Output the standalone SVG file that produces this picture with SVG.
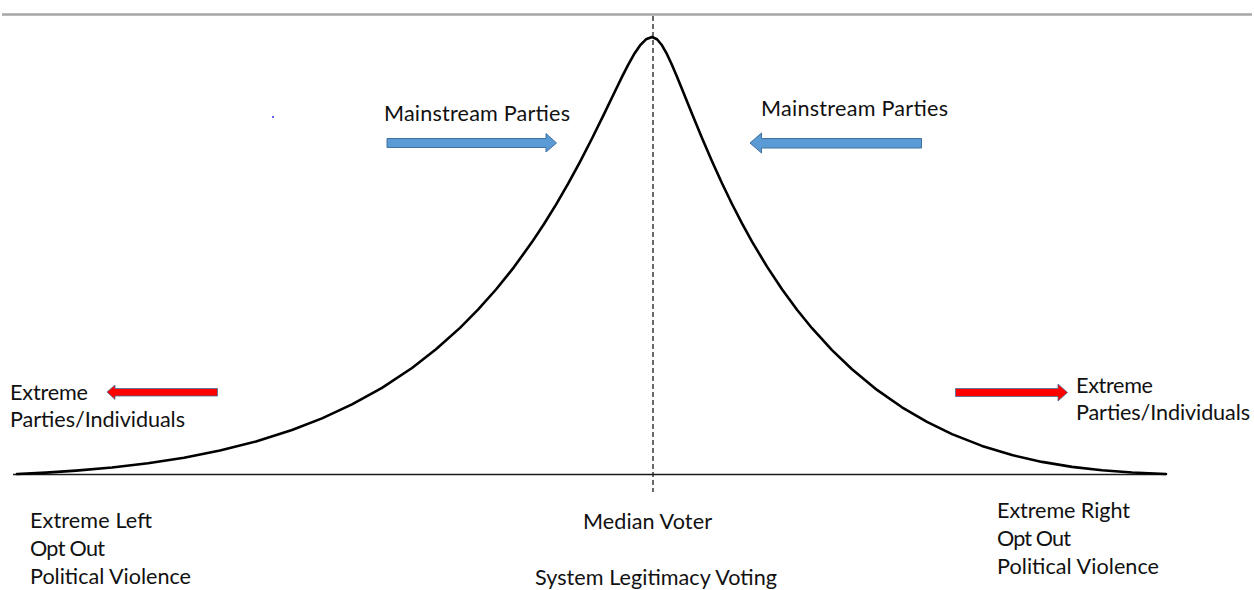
<svg xmlns="http://www.w3.org/2000/svg" width="1254" height="590" viewBox="0 0 1254 590">
  <style>
    text { font-family: Lato, "Open Sans", "Liberation Sans", sans-serif; font-size: 21.6px; fill: #111; }
    .blue { fill: #5b9bd5; stroke: #41719c; stroke-width: 1; }
    .red { fill: #ff0000; stroke: #41719c; stroke-width: 0.8; }
  </style>
  <rect x="0" y="0" width="1254" height="590" fill="#ffffff"/>
  <line x1="2" y1="14.5" x2="1252" y2="14.5" stroke="#a6a6a6" stroke-width="2.5"/>
  <rect x="272" y="116" width="2" height="2" fill="#6666ff"/>

  <g id="axes">
    <line x1="13" y1="474.5" x2="1166" y2="474.5" stroke="#1a1a1a" stroke-width="1.5"/>
    <line x1="653" y1="16" x2="653" y2="492" stroke="#1a1a1a" stroke-width="1.3" stroke-dasharray="5 3"/>
  </g>

  <g id="curve">
    <path fill="none" stroke="#000" stroke-width="2.6" stroke-linejoin="round" stroke-linecap="round" d="M17,474 L46,472.6 L76,470.6 L112,467.5 L148,463.2 L184,457.7 L220,450.5 L256,441.4 L292,430 L322,418.4 L352,404.4 L382,387.8 L412,368 L436,349.3 L460,327.9 L478,309.7 L496,289.5 L514,267.1 L532,242.1 L544,224 L556,204.6 L568,183.9 L580,161.8 L592,138.5 L604,114.1 L616,89.2 L622,76.9 L628,65.1 L634,54.3 L640,45.4 L646,39.3 L652,37 L657,39.2 L662,45.3 L667,54.2 L672,65 L677,76.7 L682,88.9 L692,113.8 L702,138.1 L712,161.3 L722,183.3 L732,204 L742,223.4 L752,241.6 L767,266.6 L782,289.3 L797,309.7 L812,328.2 L832,350.1 L852,369.3 L877,389.9 L902,407.3 L927,421.9 L952,434.1 L982,445.9 L1012,455.1 L1042,461.9 L1072,466.9 L1102,470.3 L1132,472.5 L1166,474"/>
  </g>

  <g id="connectors">
    <path class="blue" d="M387,138.5 H546 V133.5 L556.5,143 L546,152 V147.5 H387 Z"/>
    <path class="blue" d="M921.5,138.5 H761.5 V133 L750,143 L761.5,153 V148 H921.5 Z"/>
    <path class="red" d="M217.5,388.5 H115 V385 L107,392 L115,399.5 V396 H217.5 Z"/>
    <path class="red" d="M955.5,388.5 H1058 V384 L1067.5,392.5 L1058,401 V396.5 H955.5 Z"/>
  </g>

  <g id="node-mainstream-left">
    <text x="384" y="121" textLength="186">Mainstream Parties</text>
  </g>
  <g id="node-mainstream-right">
    <text x="761" y="116" textLength="187">Mainstream Parties</text>
  </g>
  <g id="node-extreme-left">
    <text x="10" y="400" textLength="78">Extreme</text>
    <text x="10" y="427" textLength="175">Parties/Individuals</text>
  </g>
  <g id="node-extreme-right">
    <text x="1076" y="393" textLength="77">Extreme</text>
    <text x="1076" y="420" textLength="174">Parties/Individuals</text>
  </g>
  <g id="node-left-label">
    <text x="30" y="528" textLength="122">Extreme Left</text>
    <text x="30" y="556" textLength="75">Opt Out</text>
    <text x="30" y="584" textLength="161">Political Violence</text>
  </g>
  <g id="node-right-label">
    <text x="997" y="518" textLength="133">Extreme Right</text>
    <text x="997" y="546" textLength="74">Opt Out</text>
    <text x="997" y="574" textLength="162">Political Violence</text>
  </g>
  <g id="node-median">
    <text x="583" y="529" textLength="129">Median Voter</text>
    <text x="535" y="585" textLength="242">System Legitimacy Voting</text>
  </g>
</svg>
